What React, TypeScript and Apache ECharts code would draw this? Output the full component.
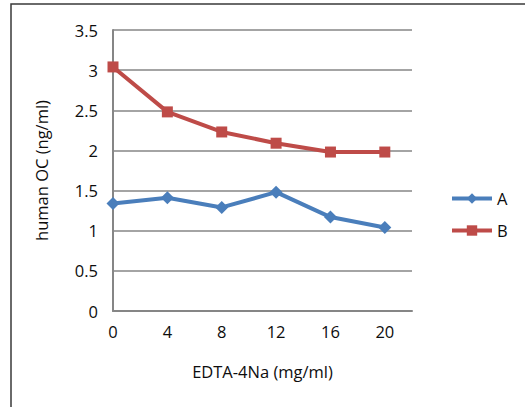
import React, { useEffect, useRef } from "react";
import * as echarts from "echarts";

const doses = [0, 4, 8, 12, 16, 20];
const seriesA = [1.34, 1.41, 1.29, 1.48, 1.17, 1.04];
const seriesB = [3.04, 2.48, 2.23, 2.09, 1.98, 1.98];
const seriesNames = ["A", "B"];
const xTitle = "EDTA-4Na (mg/ml)";
const yTitle = "human OC (ng/ml)";

const FONT = "'Open Sans', 'Noto Sans', sans-serif";
const GRID_GRAY = "#868686";
const TEXT = "#0d0d0d";

export default function App() {
  const ref = useRef<HTMLDivElement>(null);

  useEffect(() => {
    if (!ref.current) return;
    const chart = echarts.init(ref.current, undefined, { renderer: "svg" });
    const pairs = (vals: number[]) => doses.map((d, i) => [d, vals[i]]);
    chart.setOption({
      animation: false,
      backgroundColor: "#fff",
      textStyle: { fontFamily: FONT },
      graphic: [
        {
          type: "rect",
          shape: { x: 11, y: 4, width: 530, height: 420 },
          style: { fill: "none", stroke: "#3a3a3a", lineWidth: 1.5 },
          silent: true,
        },
      ],
      grid: { left: 113, top: 30, right: 113, bottom: 96 },
      xAxis: {
        type: "value",
        min: 0,
        max: 22,
        interval: 4,
        name: xTitle,
        nameLocation: "middle",
        nameGap: 52,
        nameTextStyle: { fontSize: 16.5, color: TEXT, fontFamily: FONT },
        axisLine: { show: true, lineStyle: { color: GRID_GRAY, width: 2 } },
        axisTick: { show: false },
        splitLine: { show: false },
        axisLabel: {
          showMaxLabel: false,
          fontSize: 16.5,
          color: TEXT,
          margin: 12,
          fontFamily: FONT,
        },
      },
      yAxis: {
        type: "value",
        min: 0,
        max: 3.5,
        interval: 0.5,
        name: yTitle,
        nameLocation: "middle",
        nameRotate: 90,
        nameGap: 63,
        nameTextStyle: { fontSize: 16.5, color: TEXT, fontFamily: FONT },
        axisLine: { show: true, lineStyle: { color: GRID_GRAY, width: 2 } },
        axisTick: { show: false },
        splitLine: { show: true, lineStyle: { color: GRID_GRAY, width: 1.5 } },
        axisLabel: { fontSize: 16.5, color: TEXT, margin: 15, fontFamily: FONT },
      },
      legend: {
        orient: "vertical",
        left: 445,
        top: 185,
        itemGap: 15,
        itemWidth: 40,
        itemHeight: 13,
        lineStyle: { width: 4 },
        textStyle: { fontSize: 16.5, color: TEXT, fontFamily: FONT },
        data: seriesNames,
      },
      series: [
        {
          name: seriesNames[0],
          type: "line",
          data: pairs(seriesA),
          symbol: "diamond",
          symbolSize: 13,
          color: "#4A7EBB",
          lineStyle: { width: 4, color: "#4A7EBB" },
          itemStyle: { color: "#4A7EBB" },
        },
        {
          name: seriesNames[1],
          type: "line",
          data: pairs(seriesB),
          symbol: "rect",
          symbolSize: 11,
          color: "#BE4B48",
          lineStyle: { width: 4, color: "#BE4B48" },
          itemStyle: { color: "#BE4B48" },
        },
      ],
    });
    return () => chart.dispose();
  }, []);

  return (
    <div
      ref={ref}
      style={{ position: "fixed", left: 0, top: 0, width: 525, height: 407 }}
    />
  );
}
